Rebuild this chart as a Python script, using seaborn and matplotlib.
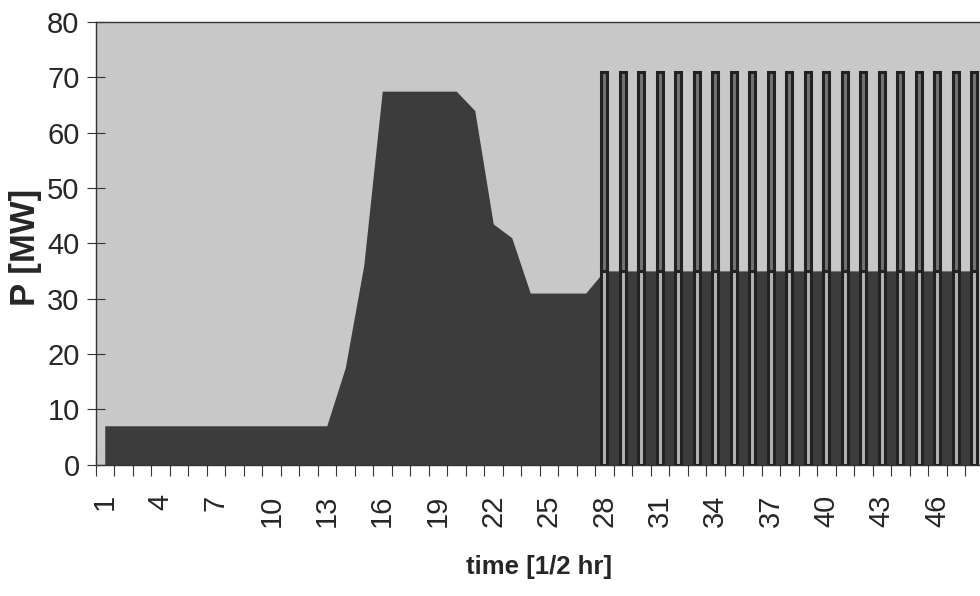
import numpy as np
import pandas as pd
import seaborn as sns
import matplotlib.pyplot as plt

# half-hour time steps
time_steps = list(range(1, 49))

# base load (dark area), MW
base_mw = [7, 7, 7, 7, 7, 7, 7, 7, 7, 7, 7, 7, 7,
           17.5, 36, 67.5, 67.5, 67.5, 67.5, 67.5, 64, 43.5, 41,
           31, 31, 31, 31,
           35, 35, 35, 35, 35, 35, 35, 35, 35, 35, 35,
           35, 35, 35, 35, 35, 35, 35, 35, 35, 35]

# pulsed load columns from step 28 onward
pulse_steps = [28, 29, 30, 31, 32, 33, 34, 35, 36, 37, 38,
               39, 40, 41, 42, 43, 44, 45, 46, 47, 48]
pulse_low = [35, 35, 35, 35, 35, 35, 35, 35, 35, 35, 35,
             35, 35, 35, 35, 35, 35, 35, 35, 35, 35]
pulse_top = [71, 71, 71, 71, 71, 71, 71, 71, 71, 71, 71,
             71, 71, 71, 71, 71, 71, 71, 71, 71, 71]

label_steps = [1, 4, 7, 10, 13, 16, 19, 22, 25, 28, 31, 34, 37, 40, 43, 46]
tick_labels = ["1", "4", "7", "10", "13", "16", "19", "22", "25", "28",
               "31", "34", "37", "40", "43", "46"]
y_ticks = [0, 10, 20, 30, 40, 50, 60, 70, 80]

sns.set_style("ticks")
plt.rcParams['font.family'] = ['Liberation Sans', 'DejaVu Sans']

fig = plt.figure(figsize=(9.8, 5.96), dpi=100)
ax = fig.add_axes([95.5 / 980, 131.5 / 596, 888 / 980, 442.5 / 596])
ax.set_facecolor("#c8c8c8")

ax.fill_between(time_steps, base_mw, 0, color="#3c3c3c", lw=0, zorder=1)

pulses = pd.DataFrame({"t": pulse_steps, "low": pulse_low, "top": pulse_top})
sns.barplot(data=pulses, x="t", y="top", native_scale=True, width=0.34,
            color="#737373", saturation=1, edgecolor="#222222", linewidth=2.2,
            ax=ax, zorder=2)
sns.barplot(data=pulses, x="t", y="low", native_scale=True, width=0.34,
            color="#b4b4b4", saturation=1, edgecolor="#222222", linewidth=2.2,
            ax=ax, zorder=3)

ax.set_xlim(0.5, 48.5)
ax.set_ylim(0, 80)
ax.set_yticks(y_ticks)
ax.set_xticks(label_steps)
ax.set_xticklabels(tick_labels, rotation=90)
ax.set_xticks(np.arange(0.5, 49, 1), minor=True)

ax.tick_params(axis='x', which='major', length=0, pad=21.5, labelsize=21)
ax.tick_params(axis='x', which='minor', direction='inout', length=16,
               width=0.8, color='#333333')
ax.tick_params(axis='y', direction='inout', length=13, width=0.8,
               color='#333333', pad=5, labelsize=21)

for side in ax.spines.values():
    side.set_color('#333333')
    side.set_linewidth(1)

ax.set_xlabel("time [1/2 hr]", fontsize=18.5, fontweight='bold')
ax.xaxis.set_label_coords(0.5, -0.205)
ax.set_ylabel("P [MW]", fontsize=25, fontweight='bold')
ax.yaxis.set_label_coords(-0.06, 0.49)

fig.savefig("out.png", dpi=100)
